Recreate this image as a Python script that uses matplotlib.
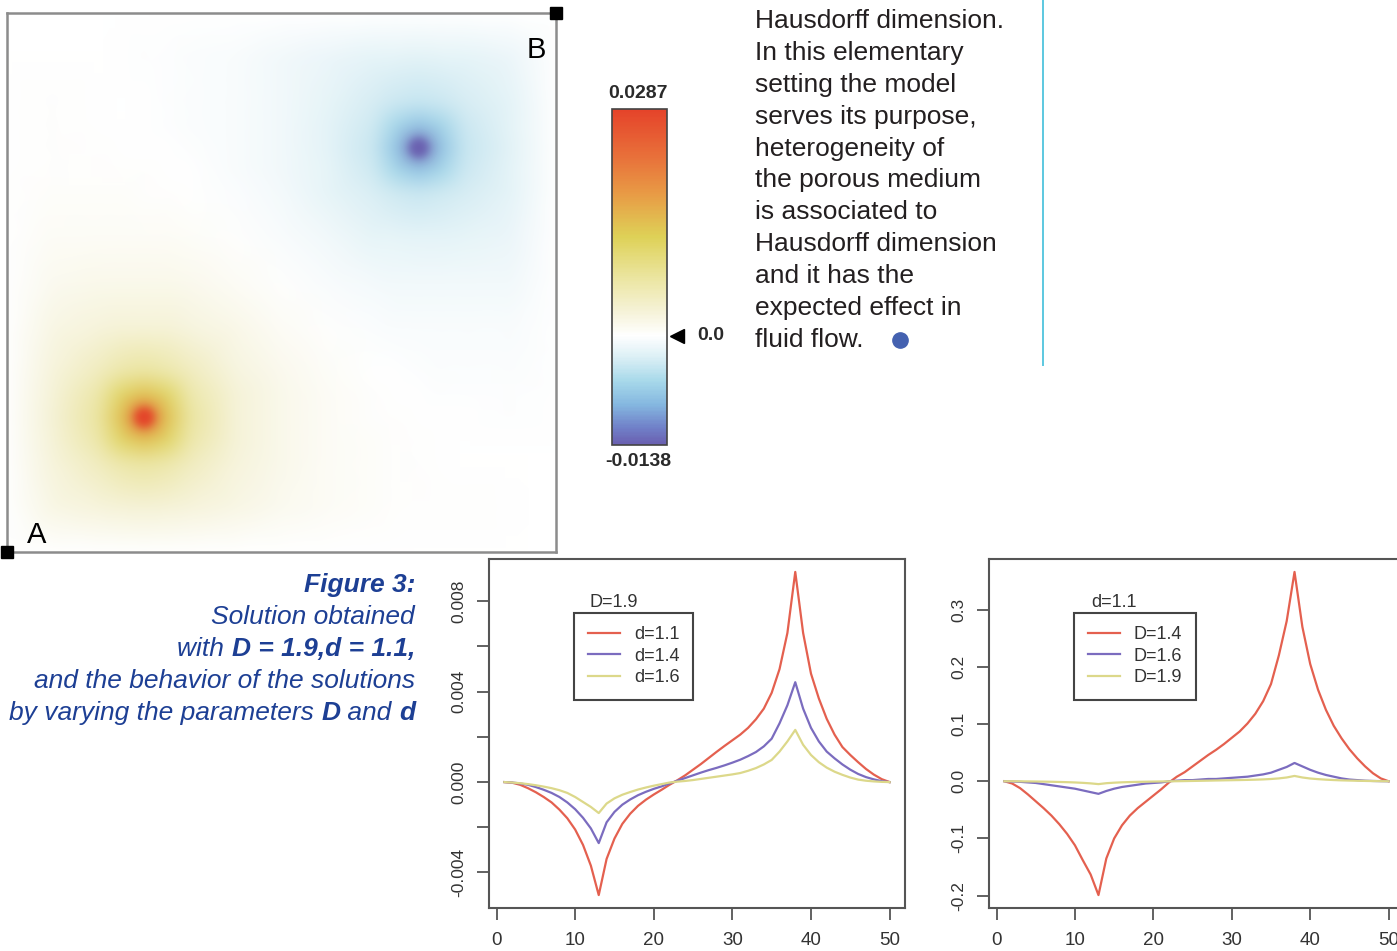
import numpy as np
import matplotlib
matplotlib.use("Agg")
import matplotlib.pyplot as plt
from matplotlib.colors import LinearSegmentedColormap, Normalize
from matplotlib.lines import Line2D

plt.rcParams['font.family'] = ['Liberation Sans', 'DejaVu Sans']

W, H = 1397, 951

# field sampled on a grid over the unit square (finer near the two spots),
# grid positions in twelfths, values in units of 1e-4, top row first
grid_pos = [0, 1, 2, 2.5, 3, 3.5, 4, 5, 6, 7, 8, 8.5, 9, 9.5, 10, 11, 12]
field_e4 = [
    [0, 0, 0, 0, 0, 0, 0, 0, 0, 0, 0, 0, 0, 0, 0, 0, 0],
    [0, 1, 0, 0, -1, -1, -2, -4, -9, -14, -19, -20, -21, -20, -19, -14, 0],
    [0, 2, 1, 1, 0, -1, -2, -5, -10, -18, -30, -36, -39, -36, -30, -19, 0],
    [0, 2, 1, 1, 0, -1, -2, -5, -10, -19, -35, -58, -74, -59, -36, -20, 0],
    [0, 3, 2, 1, 1, 0, -1, -4, -10, -19, -38, -73, -138, -74, -39, -21, 0],
    [0, 3, 3, 3, 2, 1, 0, -4, -9, -18, -34, -58, -73, -58, -36, -20, 0],
    [0, 4, 4, 4, 3, 2, 1, -2, -7, -17, -28, -34, -38, -35, -30, -19, 0],
    [0, 7, 7, 8, 7, 7, 5, 2, -4, -10, -17, -18, -19, -19, -18, -14, 0],
    [0, 12, 15, 16, 16, 15, 14, 8, 2, -4, -7, -9, -10, -10, -10, -9, 0],
    [0, 20, 28, 30, 31, 30, 26, 18, 8, 2, -2, -4, -4, -5, -4, -4, 0],
    [0, 28, 51, 67, 73, 66, 50, 26, 14, 5, 1, 0, -1, -2, -2, -2, 0],
    [0, 31, 67, 114, 139, 113, 66, 30, 15, 7, 2, 1, 0, -1, -1, -1, 0],
    [0, 32, 74, 139, 287, 139, 73, 31, 16, 7, 3, 2, 1, 0, 0, -1, 0],
    [0, 31, 67, 114, 139, 114, 67, 30, 16, 8, 4, 3, 2, 1, 1, 0, 0],
    [0, 28, 51, 67, 74, 67, 51, 28, 15, 7, 4, 3, 2, 1, 1, 0, 0],
    [0, 20, 28, 31, 32, 31, 28, 20, 12, 7, 4, 3, 3, 2, 2, 1, 0],
    [0, 0, 0, 0, 0, 0, 0, 0, 0, 0, 0, 0, 0, 0, 0, 0, 0],
]
field_min, field_max = -0.0138, 0.0287
bar_labels = ["0.0287", "-0.0138"]
# the two extreme spots (source and sink)
spot_x = [0.25, 0.75]
spot_y = [0.25, 0.75]
spot_val = [0.0287, -0.0138]

# solutions along the diagonal A -> B
steps = list(range(1, 51))
sol_D19_d11 = [0, -0.00003, -0.00012, -0.00027, -0.00045, -0.00066, -0.00090, -0.00122, -0.00160, -0.00210,
               -0.00278, -0.00370, -0.00500, -0.00340, -0.00250, -0.00185, -0.00140, -0.00105, -0.00078, -0.00055,
               -0.00034, -0.00012, 0.00008, 0.00030, 0.00055, 0.00080, 0.00107, 0.00134, 0.00160, 0.00185,
               0.00210, 0.00240, 0.00278, 0.00325, 0.00395, 0.00500, 0.00660, 0.00930, 0.00660, 0.00480,
               0.00370, 0.00280, 0.00210, 0.00155, 0.00120, 0.00088, 0.00058, 0.00033, 0.00013, 0]
sol_D19_d14 = [0, -0.00002, -0.00006, -0.00012, -0.00022, -0.00034, -0.00048, -0.00066, -0.00090, -0.00120,
               -0.00158, -0.00205, -0.00270, -0.00178, -0.00132, -0.00100, -0.00077, -0.00058, -0.00043, -0.00030,
               -0.00019, -0.00006, 0.00006, 0.00018, 0.00030, 0.00042, 0.00053, 0.00063, 0.00074, 0.00086,
               0.00099, 0.00115, 0.00133, 0.00158, 0.00192, 0.00260, 0.00340, 0.00442, 0.00325, 0.00240,
               0.00180, 0.00135, 0.00105, 0.00078, 0.00055, 0.00036, 0.00022, 0.00012, 0.00004, 0]
sol_D19_d16 = [0, -0.00002, -0.00005, -0.00009, -0.00014, -0.00020, -0.00027, -0.00036, -0.00048, -0.00066,
               -0.00088, -0.00110, -0.00137, -0.00095, -0.00072, -0.00056, -0.00044, -0.00033, -0.00024, -0.00016,
               -0.00009, -0.00002, 0.00002, 0.00005, 0.00009, 0.00014, 0.00019, 0.00024, 0.00029, 0.00034,
               0.00040, 0.00050, 0.00062, 0.00078, 0.00098, 0.00135, 0.00180, 0.00231, 0.00165, 0.00120,
               0.00088, 0.00064, 0.00046, 0.00032, 0.00020, 0.00011, 0.00006, 0.00003, 0.00001, 0]
sol_d11_D14 = [0, -0.004, -0.012, -0.023, -0.035, -0.047, -0.060, -0.075, -0.092, -0.112,
               -0.138, -0.163, -0.199, -0.135, -0.100, -0.077, -0.060, -0.047, -0.036, -0.025,
               -0.014, -0.002, 0.008, 0.016, 0.026, 0.036, 0.046, 0.055, 0.065, 0.076,
               0.087, 0.101, 0.118, 0.140, 0.170, 0.220, 0.280, 0.366, 0.270, 0.205,
               0.160, 0.125, 0.097, 0.075, 0.056, 0.040, 0.026, 0.014, 0.005, 0]
sol_d11_D16 = [0, -0.0005, -0.001, -0.002, -0.003, -0.005, -0.007, -0.009, -0.011, -0.013,
               -0.016, -0.019, -0.022, -0.017, -0.013, -0.010, -0.008, -0.006, -0.004, -0.003,
               -0.002, 0.000, 0.001, 0.002, 0.002, 0.003, 0.004, 0.004, 0.005, 0.006,
               0.007, 0.008, 0.010, 0.012, 0.015, 0.020, 0.025, 0.032, 0.026, 0.020,
               0.015, 0.011, 0.008, 0.005, 0.003, 0.002, 0.001, 0.0005, 0.0002, 0]
sol_d11_D19 = sol_D19_d11   # same run (D=1.9, d=1.1)

left_labels = ["d=1.1", "d=1.4", "d=1.6"]
right_labels = ["D=1.4", "D=1.6", "D=1.9"]
line_colors = ["#e4604f", "#7b6cbf", "#dcd88a"]

body_lines = ["Hausdorff dimension.", "In this elementary", "setting the model",
              "serves its purpose,", "heterogeneity of", "the porous medium",
              "is associated to", "Hausdorff dimension", "and it has the",
              "expected effect in", "fluid flow."]

caption_lines = [
    [("Figure 3:", "bold")],
    [("Solution obtained", "normal")],
    [("with ", "normal"), ("D = 1.9,d = 1.1,", "bold")],
    [("and the behavior of the solutions", "normal")],
    [("by varying the parameters ", "normal"), ("D", "bold"), (" and ", "normal"), ("d", "bold")],
]

cmap = LinearSegmentedColormap.from_list("flow", [
    (0.0, "#6a5fb0"), (0.05, "#7080c8"), (0.12, "#85b8e0"), (0.19, "#a8d9ea"),
    (0.26, "#dbeff5"), (0.325, "#ffffff"), (0.40, "#f5f2d6"), (0.50, "#ebe59f"),
    (0.62, "#ded157"), (0.75, "#e89a45"), (0.86, "#e8703a"), (1.0, "#e5432a")])


def px_axes(l, t, r, b):
    return [l / W, 1 - b / H, (r - l) / W, (b - t) / H]


def soft(sigma, edge):
    # gaussian blur used as an agg filter, done on premultiplied colour
    r = int(3 * sigma)
    k = np.exp(-0.5 * (np.arange(-r, r + 1) / sigma) ** 2)
    k /= k.sum()

    def blur(a):
        out = sum(k[i] * a[i:a.shape[0] - 2 * r + i] for i in range(2 * r + 1))
        return sum(k[i] * out[:, i:a.shape[1] - 2 * r + i] for i in range(2 * r + 1))

    def f(img, dpi):
        p = 2 * r if not edge else r
        pad = np.pad(img, ((p, p), (p, p), (0, 0)), mode="edge" if edge else "constant")
        alpha = pad[..., 3:4]
        a = blur(alpha)
        rgb = blur(pad[..., :3] * alpha) / np.maximum(a, 1e-6)
        res = np.concatenate([rgb, a], axis=2)
        off = 0 if edge else -r
        return res, off, off
    return f


fig = plt.figure(figsize=(W / 100, H / 100), dpi=100)

# heat map
ax = fig.add_axes(px_axes(7, 13, 556, 552))
gx = np.array(grid_pos) / 12
field = np.array(field_e4) * 1e-4
norm = Normalize(field_min, field_max)
im = ax.pcolormesh(gx, gx[::-1], field, cmap=cmap, norm=norm, shading="gouraud")
im.set_agg_filter(soft(6, True))
core = ax.scatter(spot_x, spot_y, c=spot_val, cmap=cmap, norm=norm, s=170,
                  edgecolors="none", zorder=3)
core.set_agg_filter(soft(3, False))
ax.set_xlim(0, 1)
ax.set_ylim(0, 1)
ax.set_xticks([])
ax.set_yticks([])
for s in ax.spines.values():
    s.set_color("#8c8c8c")
    s.set_linewidth(1.8)
ax.plot([0, 1], [0, 1], ls="none", marker="s", ms=8, color="black", clip_on=False, zorder=5)
ax.text(0.036, 0.017, "A", fontsize=21, va="baseline", ha="left", transform=ax.transAxes)
ax.text(0.947, 0.9165, "B", fontsize=21, va="baseline", ha="left", transform=ax.transAxes)

# colour bar
cax = fig.add_axes(px_axes(612, 109, 667, 445))
cb = fig.colorbar(im, cax=cax)
cb.set_ticks([])
cb.outline.set_edgecolor("#444444")
cb.outline.set_linewidth(1.2)
cax.text(0.47, 1.02, bar_labels[0], transform=cax.transAxes, ha="center", va="bottom",
         fontsize=14, fontweight="bold", color="#2a2a2a")
cax.text(0.47, -0.025, bar_labels[1], transform=cax.transAxes, ha="center", va="top",
         fontsize=14, fontweight="bold", color="#2a2a2a")
cax.plot([1.18], [0.0], transform=cax.get_yaxis_transform(), marker="<", ms=10,
         color="black", clip_on=False)
cax.text(1.55, 0.0, "0.0", transform=cax.get_yaxis_transform(), ha="left", va="center",
         fontsize=14, fontweight="bold", color="#2a2a2a")

# body text
for i, line in enumerate(body_lines):
    fig.text(755 / W, 1 - (28 + 31.9 * i) / H, line, fontsize=19, color="#231f20",
             ha="left", va="baseline")
fig.add_artist(Line2D([900 / W], [1 - 340 / H], marker="o", ms=11, color="#4461b0",
                      transform=fig.transFigure))
fig.add_artist(Line2D([1043 / W, 1043 / W], [1, 1 - 365 / H], color="#5cc8e0", lw=1.4,
                      transform=fig.transFigure))

# caption, right aligned, built from pieces
renderer = fig.canvas.get_renderer()
for i, parts in enumerate(caption_lines):
    x = 415
    y = 592 + 32 * i
    for txt, weight in reversed(parts):
        t = fig.text(x / W, 1 - y / H, txt, fontsize=19, style="italic", fontweight=weight,
                     color="#1d3f94", ha="right", va="baseline")
        x -= t.get_window_extent(renderer).width


def profile_axes(rect, series, labels, title, yticks, yticklabels):
    a = fig.add_axes(rect)
    for vals, lab, col in zip(series, labels, line_colors):
        a.plot(steps, vals, color=col, lw=1.6, label=lab)
    a.margins(x=0.04, y=0.04)
    a.set_xticks([0, 10, 20, 30, 40, 50])
    a.set_yticks(yticks)
    a.set_yticklabels(yticklabels, rotation=90, va="center")
    a.tick_params(direction="out", length=8.5, width=1.3, colors="#555555",
                  labelcolor="#333333", labelsize=12.5, pad=8)
    a.tick_params(axis="x", pad=9, labelsize=13.5)
    for s in a.spines.values():
        s.set_color("#555555")
        s.set_linewidth(1.5)
    leg = a.legend(loc="upper left", bbox_to_anchor=(0.205, 0.846), fontsize=13,
                   fancybox=False, edgecolor="#444444", framealpha=1, borderaxespad=0,
                   handlelength=1.8, handletextpad=0.75, labelspacing=0.25, borderpad=0.75)
    leg.get_frame().set_linewidth(1.5)
    for t in leg.get_texts():
        t.set_color("#333333")
    a.text(0.30, 0.874, title, transform=a.transAxes, ha="center", va="center",
           fontsize=13, color="#333333")
    return a


profile_axes(px_axes(489, 559, 905, 908), [sol_D19_d11, sol_D19_d14, sol_D19_d16],
             left_labels, "D=1.9",
             [-0.004, -0.002, 0.0, 0.002, 0.004, 0.006, 0.008],
             ["-0.004", "", "0.000", "", "0.004", "", "0.008"])
profile_axes(px_axes(989, 559, 1404, 908), [sol_d11_D14, sol_d11_D16, sol_d11_D19],
             right_labels, "d=1.1",
             [-0.2, -0.1, 0.0, 0.1, 0.2, 0.3],
             ["-0.2", "-0.1", "0.0", "0.1", "0.2", "0.3"])

fig.savefig("out.png", dpi=100)
